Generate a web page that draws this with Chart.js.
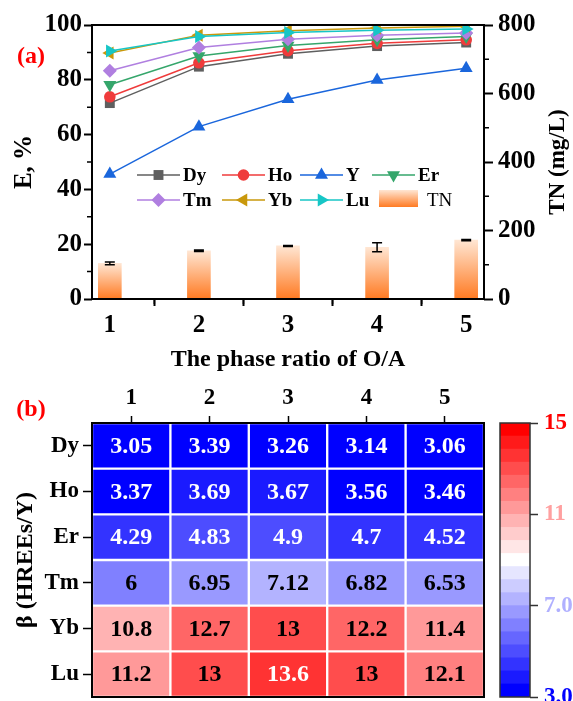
<!DOCTYPE html>
<html>
<head>
<meta charset="utf-8">
<script src="https://cdn.jsdelivr.net/npm/chart.js@4.4.0/dist/chart.umd.min.js"></script>
<style>
  html, body { margin: 0; padding: 0; background: #fff; }
  #wrap { position: relative; width: 573px; height: 701px; overflow: hidden; }
  canvas { position: absolute; }
</style>
</head>
<body>
<div id="wrap">
  <canvas id="lineChart" width="573" height="375" style="left:0;top:0"></canvas>
  <canvas id="heatChart" width="490" height="331" style="left:0;top:370px"></canvas>
  <canvas id="scaleChart" width="83" height="331" style="left:490px;top:370px"></canvas>
</div>
<script>
// ---- data (a) ----
const ratios = [1, 2, 3, 4, 5];
const eDy = [71.5, 84.8, 89.5, 92.3, 93.6];
const eHo = [73.8, 86.2, 90.6, 93.3, 94.6];
const eY  = [45.6, 62.9, 72.9, 79.9, 84.2];
const eEr = [78.2, 88.7, 92.5, 94.6, 95.8];
const eTm = [83.3, 91.8, 94.8, 96.3, 97.1];
const eYb = [89.8, 96.3, 97.9, 98.9, 99.5];
const eLu = [90.5, 95.8, 97.3, 98.1, 98.5];
const tnValues = [104, 141, 155, 151, 172];
const tnErrors = [4, 2, 1.5, 13, 2];

// ---- data (b) ----
const rowNames = ['Dy', 'Ho', 'Er', 'Tm', 'Yb', 'Lu'];
const colNames = ['1', '2', '3', '4', '5'];
const betaDy = [3.05, 3.39, 3.26, 3.14, 3.06];
const betaHo = [3.37, 3.69, 3.67, 3.56, 3.46];
const betaEr = [4.29, 4.83, 4.9, 4.7, 4.52];
const betaTm = [6, 6.95, 7.12, 6.82, 6.53];
const betaYb = [10.8, 12.7, 13, 12.2, 11.4];
const betaLu = [11.2, 13, 13.6, 13, 12.1];
const scaleTicks = [3, 7, 11, 15];
const scaleTickLabels = ['3.0', '7.0', '11', '15'];

const FONT = "'Liberation Serif', 'Times New Roman', serif";
Chart.defaults.font.family = FONT;
Chart.defaults.font.weight = 'bold';
Chart.defaults.color = '#000';

// series styles
const series = [
  { name: 'Dy', data: eDy, color: '#5f5f5f', shape: 'rect', rot: 0, r: 7 },
  { name: 'Ho', data: eHo, color: '#ef3b3b', shape: 'circle', rot: 0, r: 5.8 },
  { name: 'Y',  data: eY,  color: '#1a66dc', shape: 'triangle', rot: 0, r: 7.5 },
  { name: 'Er', data: eEr, color: '#35a66b', shape: 'triangle', rot: 180, r: 7.5 },
  { name: 'Tm', data: eTm, color: '#b07fe0', shape: 'rectRot', rot: 0, r: 7 },
  { name: 'Yb', data: eYb, color: '#c9980b', shape: 'triangle', rot: -90, r: 7.5 },
  { name: 'Lu', data: eLu, color: '#17c6c6', shape: 'triangle', rot: 90, r: 7.5 }
];

function marker(ctx, shape, rot, r, x, y, color) {
  ctx.save();
  ctx.translate(x, y);
  ctx.rotate(rot * Math.PI / 180);
  ctx.fillStyle = color;
  ctx.beginPath();
  if (shape === 'circle') ctx.arc(0, 0, r, 0, Math.PI * 2);
  else if (shape === 'rect') { const s = r * Math.SQRT1_2; ctx.rect(-s, -s, 2 * s, 2 * s); }
  else if (shape === 'rectRot') { ctx.moveTo(0, -r); ctx.lineTo(r, 0); ctx.lineTo(0, r); ctx.lineTo(-r, 0); ctx.closePath(); }
  else { for (let k = 0; k < 3; k++) { const a = k * 2 * Math.PI / 3; ctx.lineTo(Math.sin(a) * r, -Math.cos(a) * r); } ctx.closePath(); }
  ctx.fill();
  ctx.restore();
}

function tnGradient(ctx, top, bottom) {
  const g = ctx.createLinearGradient(0, top, 0, bottom);
  g.addColorStop(0, '#ffe6d3');
  g.addColorStop(1, '#ff7a22');
  return g;
}

// legend layout (pixels)
const legendItems = [
  { s: 0, x: 137, y: 175 }, { s: 1, x: 222, y: 175 }, { s: 2, x: 300, y: 175 }, { s: 3, x: 372, y: 175 },
  { s: 4, x: 137, y: 200 }, { s: 5, x: 222, y: 200 }, { s: 6, x: 300, y: 200 }
];

const topDecor = {
  id: 'topDecor',
  afterDatasetsDraw(chart) {
    const ctx = chart.ctx, xs = chart.scales.x, ys = chart.scales.y2;
    ctx.save();
    ctx.strokeStyle = '#000';
    ctx.lineWidth = 1.5;
    tnValues.forEach((v, i) => {
      const x = xs.getPixelForValue(ratios[i]);
      const y1 = ys.getPixelForValue(v - tnErrors[i]);
      const y2 = ys.getPixelForValue(v + tnErrors[i]);
      ctx.beginPath();
      ctx.moveTo(x, y1); ctx.lineTo(x, y2);
      ctx.moveTo(x - 5, y1); ctx.lineTo(x + 5, y1);
      ctx.moveTo(x - 5, y2); ctx.lineTo(x + 5, y2);
      ctx.stroke();
    });
    ctx.restore();
  },
  afterDraw(chart) {
    const ctx = chart.ctx, a = chart.chartArea;
    const xs = chart.scales.x, yl = chart.scales.y, yr = chart.scales.y2;
    ctx.save();
    ctx.strokeStyle = '#000';
    ctx.lineWidth = 2;
    ctx.strokeRect(a.left, a.top, a.right - a.left, a.bottom - a.top);
    // minor ticks
    ctx.lineWidth = 1.5;
    ctx.beginPath();
    [10, 30, 50, 70, 90].forEach(v => { const y = yl.getPixelForValue(v); ctx.moveTo(a.left, y); ctx.lineTo(a.left - 5, y); });
    [100, 300, 500, 700].forEach(v => { const y = yr.getPixelForValue(v); ctx.moveTo(a.right, y); ctx.lineTo(a.right + 5, y); });
    [1.5, 2.5, 3.5, 4.5].forEach(v => { const x = xs.getPixelForValue(v); ctx.moveTo(x, a.bottom); ctx.lineTo(x, a.bottom + 5); });
    ctx.stroke();

    // legend
    ctx.textBaseline = 'middle';
    ctx.textAlign = 'left';
    legendItems.forEach(it => {
      const s = series[it.s];
      ctx.strokeStyle = s.color;
      ctx.lineWidth = 1.5;
      ctx.beginPath(); ctx.moveTo(it.x, it.y); ctx.lineTo(it.x + 43, it.y); ctx.stroke();
      marker(ctx, s.shape, s.rot, s.r, it.x + 21.5, it.y, s.color);
      ctx.fillStyle = '#000';
      ctx.font = 'bold 19px ' + FONT;
      ctx.fillText(s.name, it.x + 46, it.y + 1);
    });
    ctx.fillStyle = tnGradient(ctx, 190, 207);
    ctx.fillRect(379, 190, 39, 17);
    ctx.fillStyle = '#000';
    ctx.font = '19px ' + FONT;
    ctx.fillText('TN', 427, 201);

    // panel label and right title
    ctx.fillStyle = '#ff0000';
    ctx.font = 'bold 24px ' + FONT;
    ctx.textAlign = 'center';
    ctx.fillText('(a)', 31, 57);
    ctx.fillStyle = '#000';
    ctx.font = 'bold 23px ' + FONT;
    ctx.translate(558, (a.top + a.bottom) / 2);
    ctx.rotate(-Math.PI / 2);
    ctx.fillText('TN (mg/L)', 0, 0);
    ctx.restore();
  }
};

const lineSets = series.map((s, i) => ({
  type: 'line',
  label: s.name,
  data: s.data.map((v, k) => ({ x: ratios[k], y: v })),
  yAxisID: 'y',
  borderColor: s.color,
  backgroundColor: s.color,
  borderWidth: 1.5,
  pointStyle: s.shape,
  pointRotation: s.rot,
  pointRadius: s.r,
  pointBorderWidth: 0,
  order: series.length - i
}));

const barSet = {
  type: 'bar',
  label: 'TN',
  data: tnValues.map((v, k) => ({ x: ratios[k], y: v })),
  yAxisID: 'y2',
  barThickness: 23,
  borderWidth: 0,
  order: 20,
  backgroundColor(c) {
    const ch = c.chart;
    if (!ch.chartArea || !c.raw) return '#ff9a5a';
    return tnGradient(ch.ctx, ch.scales.y2.getPixelForValue(c.raw.y), ch.chartArea.bottom);
  }
};

const tickFont = { size: 25, weight: 'bold', family: FONT };
const heatFont = { size: 23, weight: 'bold', family: FONT };

new Chart(document.getElementById('lineChart'), {
  data: { datasets: [barSet, ...lineSets] },
  options: {
    responsive: false,
    animation: false,
    layout: { padding: { top: 25, left: 0, right: 0, bottom: 0 } },
    plugins: { legend: { display: false }, tooltip: { enabled: false } },
    scales: {
      x: {
        type: 'linear', min: 0.8, max: 5.2, offset: false,
        afterBuildTicks: s => { s.ticks = ratios.map(v => ({ value: v })); },
        afterFit: s => { s.height = 76; },
        ticks: { font: tickFont, padding: 5 },
        grid: { drawOnChartArea: false, tickLength: 7, tickWidth: 2, tickColor: '#000' },
        border: { display: false },
        title: { display: true, text: 'The phase ratio of O/A', font: { size: 24, weight: 'bold' }, padding: 1 }
      },
      y: {
        position: 'left', min: 0, max: 100,
        ticks: { stepSize: 20, font: tickFont, padding: 2 },
        afterFit: s => { s.width = 92; },
        grid: { drawOnChartArea: false, tickLength: 8, tickWidth: 2, tickColor: '#000' },
        border: { display: false },
        title: { display: true, text: 'E, %', font: { size: 25, weight: 'bold' }, padding: 10 }
      },
      y2: {
        position: 'right', min: 0, max: 800,
        ticks: { stepSize: 200, font: tickFont, padding: 5 },
        afterFit: s => { s.width = 89; },
        grid: { drawOnChartArea: false, tickLength: 9, tickWidth: 2, tickColor: '#000' },
        border: { display: false }
      }
    }
  },
  plugins: [topDecor]
});

// ---- heatmap (b) ----
const betaRows = [betaDy, betaHo, betaEr, betaTm, betaYb, betaLu];
const betaMin = 3, betaMax = 15, betaSteps = 21;

function stepColor(i) {
  const half = (betaSteps - 1) / 2;
  if (i <= half) { const c = Math.round(255 * i / half); return `rgb(${c},${c},255)`; }
  const c = Math.round(255 * (betaSteps - 1 - i) / half);
  return `rgb(255,${c},${c})`;
}
function betaColor(v) {
  let i = Math.floor((v - betaMin) / ((betaMax - betaMin) / betaSteps));
  i = Math.max(0, Math.min(betaSteps - 1, i));
  return stepColor(i);
}

const heatDecor = {
  id: 'heatDecor',
  afterDatasetsDraw(chart) {
    const ctx = chart.ctx;
    ctx.save();
    ctx.font = 'bold 24px ' + FONT;
    ctx.textAlign = 'center';
    ctx.textBaseline = 'middle';
    chart.data.datasets.forEach((ds, r) => {
      chart.getDatasetMeta(r).data.forEach((el, c) => {
        const v = betaRows[r][c];
        ctx.fillStyle = (v < 5.5 || v >= 13.5) ? '#fff' : '#000';
        ctx.fillText(String(v), el.x, (el.y + el.base) / 2 + 1);
      });
    });
    ctx.restore();
  },
  afterDraw(chart) {
    const ctx = chart.ctx, a = chart.chartArea;
    ctx.save();
    ctx.strokeStyle = '#000';
    ctx.lineWidth = 2;
    ctx.strokeRect(a.left, a.top, a.right - a.left, a.bottom - a.top);
    ctx.fillStyle = '#ff0000';
    ctx.font = 'bold 24px ' + FONT;
    ctx.textAlign = 'center';
    ctx.textBaseline = 'middle';
    ctx.fillText('(b)', 31, 40);
    ctx.restore();
  }
};

new Chart(document.getElementById('heatChart'), {
  type: 'bar',
  data: {
    labels: colNames,
    datasets: betaRows.map((row, r) => ({
      label: rowNames[r],
      data: row.map(() => 1),
      backgroundColor: row.map(betaColor),
      borderColor: '#fff',
      borderWidth: 1.5,
      borderSkipped: false,
      barPercentage: 1,
      categoryPercentage: 1
    }))
  },
  options: {
    responsive: false,
    animation: false,
    layout: { padding: { top: 0, left: 0, right: 6, bottom: 4 } },
    plugins: { legend: { display: false }, tooltip: { enabled: false } },
    scales: {
      x: {
        position: 'top', stacked: true,
        afterFit: s => { s.height = 53; },
        ticks: { font: heatFont, padding: 4 },
        grid: { offset: false, drawOnChartArea: false, tickLength: 7, tickWidth: 1.5, tickColor: '#000' },
        border: { display: false }
      },
      y: {
        stacked: true, reverse: true, min: 0, max: 6,
        afterBuildTicks: s => { s.ticks = rowNames.map((n, i) => ({ value: i + 0.5 })); },
        afterFit: s => { s.width = 92; s.paddingTop = 0; s.paddingBottom = 0; },
        ticks: { font: heatFont, padding: 4, callback: v => rowNames[Math.floor(v)] },
        grid: { drawOnChartArea: false, tickLength: 9, tickWidth: 1.5, tickColor: '#000' },
        border: { display: false },
        title: { display: true, text: 'β (HREEs/Y)', font: { size: 24, weight: 'bold' }, padding: 11 }
      }
    }
  },
  plugins: [heatDecor]
});

// ---- colour scale ----
const scaleStep = (betaMax - betaMin) / betaSteps;
const scaleDecor = {
  id: 'scaleDecor',
  afterDraw(chart) {
    const ctx = chart.ctx, a = chart.chartArea;
    ctx.save();
    ctx.strokeStyle = '#333';
    ctx.lineWidth = 1.5;
    ctx.strokeRect(a.left, a.top, a.right - a.left, a.bottom - a.top);
    ctx.restore();
  }
};

new Chart(document.getElementById('scaleChart'), {
  type: 'bar',
  data: {
    labels: [''],
    datasets: Array.from({ length: betaSteps }, (_, i) => ({
      data: [[betaMin + i * scaleStep, betaMin + (i + 1) * scaleStep]],
      backgroundColor: stepColor(i),
      borderWidth: 0,
      grouped: false,
      barPercentage: 1,
      categoryPercentage: 1
    }))
  },
  options: {
    responsive: false,
    animation: false,
    layout: { padding: { top: 53, left: 10, right: 0, bottom: 4 } },
    plugins: { legend: { display: false }, tooltip: { enabled: false } },
    scales: {
      x: { display: false },
      y: {
        position: 'right', min: betaMin, max: betaMax,
        afterBuildTicks: s => { s.ticks = scaleTicks.map(v => ({ value: v })); },
        afterFit: s => { s.width = 43; s.paddingTop = 0; s.paddingBottom = 0; },
        ticks: {
          font: heatFont, padding: 6,
          callback: (v, i) => scaleTickLabels[i],
          color: c => ['#0000ff', '#b0b0ff', '#ffa0a0', '#ff0000'][c.index]
        },
        grid: { drawOnChartArea: false, tickLength: 8, tickWidth: 1.5, tickColor: '#333' },
        border: { display: false }
      }
    }
  },
  plugins: [scaleDecor]
});
</script>
</body>
</html>
